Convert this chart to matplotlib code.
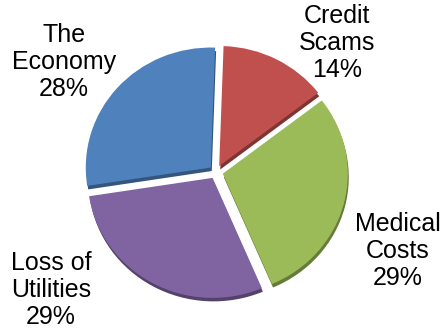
import matplotlib
matplotlib.use("Agg")
import matplotlib.pyplot as plt
import numpy as np

# Share of concerns, clockwise from the top
labels = ["Credit\nScams", "Medical\nCosts", "Loss of\nUtilities", "The\nEconomy"]
shares = [14, 29, 29, 28]
colors = ["#C0504D", "#9BBB59", "#8064A2", "#4F81BD"]
edge_colors = ["#7E3432", "#667B3A", "#54426A", "#34557C"]

W, H = 443, 328
SQUASH = 0.96  # slight tilt of the disc

fig = plt.figure(figsize=(W / 100, H / 100), dpi=100)
ax = fig.add_axes([0, 0, 1, 1])

def to_data(x, y):
    """Image pixel position -> data coordinates."""
    return x, (H - y) / SQUASH

center = to_data(216, 172)
radius = 125
explode = [7] * len(shares)  # pie offsets in data units

# darker rim under each slice gives the raised look
shadow_center = (center[0] + 1, center[1] - 3.5 / SQUASH)
ax.pie(shares, colors=edge_colors, explode=explode, startangle=88,
       counterclock=False, center=shadow_center, radius=radius,
       wedgeprops=dict(linewidth=0))
wedges, _ = ax.pie(shares, colors=colors, explode=explode, startangle=88,
                   counterclock=False, center=center, radius=radius,
                   wedgeprops=dict(linewidth=0))

# label positions (image pixels)
label_pos = [(337, 43), (398, 251), (51, 290), (64, 62)]
for lab, val, (px, py) in zip(labels, shares, label_pos):
    x, y = to_data(px, py)
    ax.text(x, y, f"{lab}\n{val}%", ha="center", va="center",
            fontsize=18, family="Liberation Sans", linespacing=1.17,
            color="black")

ax.set_aspect("auto")
ax.set_xlim(0, W)
ax.set_ylim(0, H / SQUASH)
ax.axis("off")

fig.savefig("out.png", dpi=100)
